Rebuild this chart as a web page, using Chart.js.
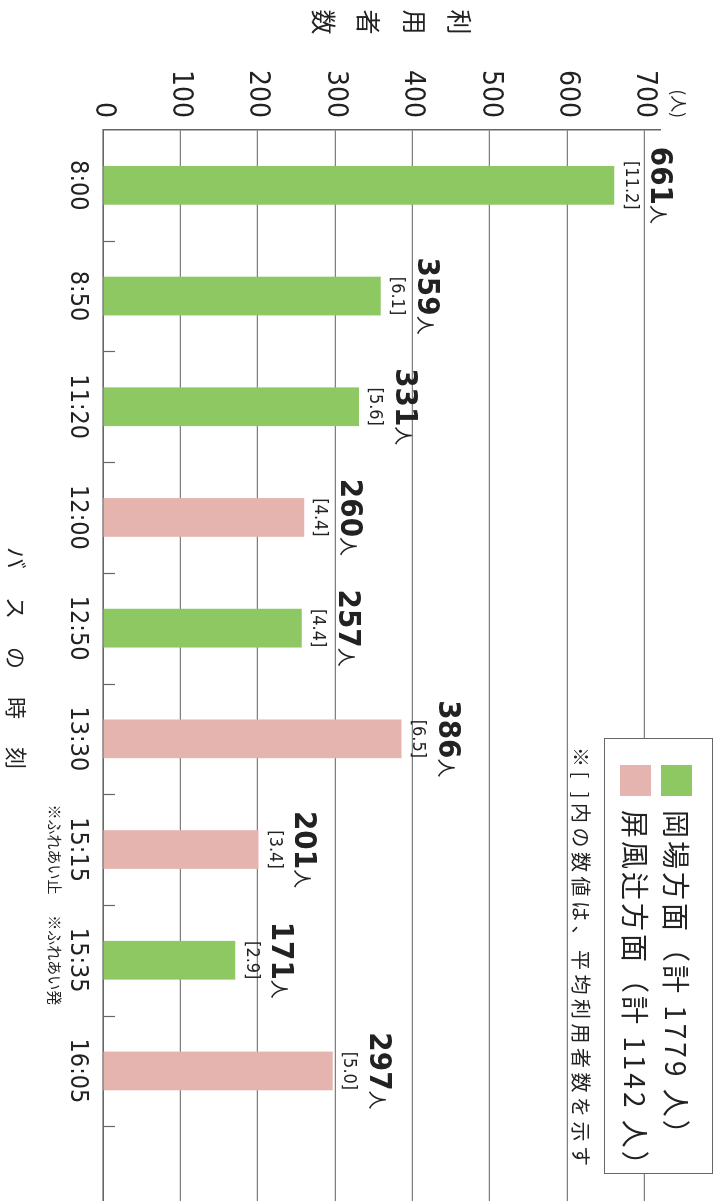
<!DOCTYPE html>
<html>
<head>
<meta charset="utf-8">
<script src="https://cdn.jsdelivr.net/npm/chart.js@4.4.1/dist/chart.umd.min.js"></script>
<style>
  html, body { margin: 0; padding: 0; background: #fff; width: 716px; height: 1201px; overflow: hidden; }
  #wrap { position: absolute; left: 0; top: 0; width: 1240px; height: 716px;
          transform-origin: 0 0; transform: translate(716px, 0) rotate(90deg); background: #fff; }
</style>
</head>
<body>
<div id="wrap"><canvas id="chart" width="1240" height="716"></canvas></div>
<script>
// バスの時刻別 利用者数
const timeLabels = ["8:00", "8:50", "11:20", "12:00", "12:50", "13:30", "15:15", "15:35", "16:05"];
const okabaValues = [661, 359, 331, null, 257, null, null, 171, null];
const byobuValues = [null, null, null, 260, null, 386, 201, null, 297];
const averageValues = [11.2, 6.1, 5.6, 4.4, 4.4, 6.5, 3.4, 2.9, 5.0];
const valueTicks = [0, 100, 200, 300, 400, 500, 600, 700];
const timeNotes = ["", "", "", "", "", "", "※ふれあい止", "※ふれあい発", ""];
const legendLabels = ["岡場方面（計 1779 人）", "屏風辻方面（計 1142 人）"];

const GREEN = "#8dc863";
const PINK = "#e6b4af";
const NARROW = "'Liberation Sans Narrow', 'DejaVu Sans Condensed', sans-serif";
const JP = "'Noto Sans CJK JP', sans-serif";

const decorations = {
  id: "decorations",
  beforeDraw(chart) {
    const ctx = chart.ctx;
    ctx.save();
    ctx.fillStyle = "#fff";
    ctx.fillRect(0, 0, chart.width, chart.height);
    ctx.restore();
  },
  afterDraw(chart) {
    const ctx = chart.ctx;
    const x = chart.scales.x;
    const area = chart.chartArea;
    ctx.save();

    // 内向きの目盛り
    ctx.strokeStyle = "#666";
    ctx.lineWidth = 1.2;
    const step = x.getPixelForValue(1) - x.getPixelForValue(0);
    for (let i = 1; i <= timeLabels.length; i++) {
      const px = Math.round(x.getPixelForValue(i) - step / 2) + 0.5;
      ctx.beginPath();
      ctx.moveTo(px, area.bottom);
      ctx.lineTo(px, area.bottom - 12);
      ctx.stroke();
    }

    // 棒の上のラベル
    ctx.fillStyle = "#222";
    chart.data.datasets.forEach((ds, di) => {
      const meta = chart.getDatasetMeta(di);
      meta.data.forEach((bar, i) => {
        const v = ds.data[i];
        if (v == null) return;
        ctx.font = "18px " + NARROW;
        ctx.textAlign = "center";
        ctx.textBaseline = "middle";
        ctx.fillText("[" + averageValues[i].toFixed(1) + "]", bar.x, bar.y - 16);

        ctx.textBaseline = "alphabetic";
        ctx.font = "bold 31px " + NARROW;
        const num = String(v);
        const wNum = ctx.measureText(num).width;
        ctx.font = "19px " + JP;
        const wUnit = ctx.measureText("人").width;
        const left = bar.x - (wNum + wUnit) / 2;
        ctx.textAlign = "left";
        ctx.font = "bold 31px " + NARROW;
        ctx.fillText(num, left, bar.y - 37);
        ctx.font = "19px " + JP;
        ctx.fillText("人", left + wNum, bar.y - 37);
      });
    });

    // 注記（ふれあい）
    ctx.font = "15px " + JP;
    ctx.textAlign = "center";
    ctx.textBaseline = "middle";
    timeNotes.forEach((t, i) => {
      if (t) ctx.fillText(t, x.getPixelForValue(i), 661);
    });

    // 軸タイトル
    ctx.font = "25px " + JP;
    ["利", "用", "者", "数"].forEach((c, i) => ctx.fillText(c, 22, 256 + i * 45.5));
    ctx.font = "22px " + JP;
    ["バ", "ス", "の", "時", "刻"].forEach((c, i) => ctx.fillText(c, 558 + i * 50, 700));
    ctx.font = "17px " + JP;
    ctx.textAlign = "right";
    ctx.fillText("(人)", 118, 38);

    // 凡例
    ctx.fillStyle = "#fff";
    ctx.fillRect(738, 3, 435, 108);
    ctx.strokeStyle = "#666";
    ctx.lineWidth = 1;
    ctx.strokeRect(738.5, 3.5, 435, 108);
    ctx.fillStyle = GREEN;
    ctx.fillRect(765, 24, 31, 31);
    ctx.fillStyle = PINK;
    ctx.fillRect(765, 65, 31, 31);
    ctx.fillStyle = "#222";
    ctx.textAlign = "left";
    ctx.font = "28px " + JP;
    ctx.letterSpacing = "3px";
    ctx.fillText(legendLabels[0], 810, 40);
    ctx.fillText(legendLabels[1], 810, 81);
    ctx.font = "20px " + JP;
    ctx.letterSpacing = "4.5px";
    ctx.fillText("※[ ]内の数値は、平均利用者数を示す", 747, 135);
    ctx.letterSpacing = "0px";
    ctx.restore();
  }
};

new Chart(document.getElementById("chart").getContext("2d"), {
  type: "bar",
  data: {
    labels: [...timeLabels, ""],
    datasets: [
      {
        label: "岡場方面",
        data: [...okabaValues, null],
        backgroundColor: GREEN,
        grouped: false,
        barPercentage: 0.35,
        categoryPercentage: 1,
      },
      {
        label: "屏風辻方面",
        data: [...byobuValues, null],
        backgroundColor: PINK,
        grouped: false,
        barPercentage: 0.35,
        categoryPercentage: 1,
      },
    ],
  },
  options: {
    responsive: false,
    devicePixelRatio: 1,
    animation: false,
    layout: { padding: { top: 56, right: 3, left: 0, bottom: 0 } },
    plugins: {
      legend: { display: false },
      tooltip: { enabled: false },
    },
    scales: {
      x: {
        offset: true,
        grid: { display: false, drawTicks: false },
        border: { display: true, color: "#666", width: 1.5 },
        ticks: {
          color: "#222",
          font: { family: NARROW, size: 25 },
          padding: 10,
          maxRotation: 0,
          autoSkip: false,
        },
        afterFit(scale) { scale.height = 103; },
      },
      y: {
        min: 0,
        max: 720,
        afterBuildTicks(scale) { scale.ticks = valueTicks.map((v) => ({ value: v })); },
        grid: {
          color: "#808080",
          lineWidth: 1.2,
          drawTicks: false,
        },
        border: { display: true, color: "#666", width: 1.5 },
        ticks: {
          color: "#222",
          font: { family: NARROW, size: 28 },
          padding: 12,
        },
        afterFit(scale) { scale.width = 130; },
      },
    },
  },
  plugins: [decorations],
});
</script>
</body>
</html>
